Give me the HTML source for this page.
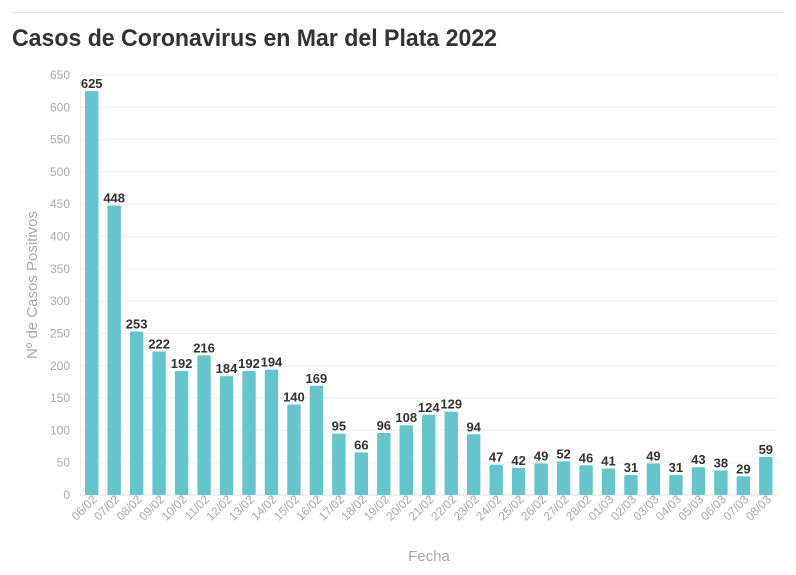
<!DOCTYPE html>
<html><head><meta charset="utf-8"><style>
body{margin:0;background:#fff;width:796px;height:575px;overflow:hidden}
svg{display:block;font-family:"Liberation Sans",sans-serif}
</style></head><body>
<svg width="796" height="575" xmlns="http://www.w3.org/2000/svg">
<line x1="12" y1="12.5" x2="784" y2="12.5" stroke="#ddd"/>
<text x="12" y="46" font-size="24" font-weight="bold" fill="#333" textLength="485" lengthAdjust="spacingAndGlyphs">Casos de Coronavirus en Mar del Plata 2022</text>
<g id="grid"></g>
<g id="bars"></g>
<text transform="translate(37,285) rotate(-90)" text-anchor="middle" font-size="15" fill="#aaa">Nº de Casos Positivos</text>
<text x="429" y="561" text-anchor="middle" font-size="15" fill="#aaa">Fecha</text>
<script>
const v=[625,448,253,222,192,216,184,192,194,140,169,95,66,96,108,124,129,94,47,42,49,52,46,41,31,49,31,43,38,29,59];
const L=["06/02","07/02","08/02","09/02","10/02","11/02","12/02","13/02","14/02","15/02","16/02","17/02","18/02","19/02","20/02","21/02","22/02","23/02","24/02","25/02","26/02","27/02","28/02","01/03","02/03","03/03","04/03","05/03","06/03","07/03","08/03"];
const ns="http://www.w3.org/2000/svg";
function el(p,t,a,tx){const e=document.createElementNS(ns,t);for(const k in a)e.setAttribute(k,a[k]);if(tx!=null)e.textContent=tx;p.appendChild(e);return e;}
const g=document.getElementById('grid'),b=document.getElementById('bars');
const y0=495,k=420/650;
for(let t=0;t<=650;t+=50){const y=y0-t*k;
el(g,'line',{x1:80,x2:778,y1:y,y2:y,stroke:t?'#efefef':'#e0e0e0'});
el(g,'text',{x:70,y:y+4,'text-anchor':'end','font-size':12,fill:'#aaa'},t);}
el(g,'line',{x1:80.5,x2:80.5,y1:75,y2:495,stroke:'#efefef'});
v.forEach((d,i)=>{const cx=91.7+i*22.47,h=d*k;
el(b,'rect',{x:cx-6.7,y:y0-h,width:13.4,height:h,fill:'#66c5cc',rx:1});
el(b,'text',{x:cx,y:y0-h-3,'text-anchor':'middle','font-size':13,'font-weight':'bold',fill:'#333'},d);
el(b,'line',{x1:cx,x2:cx,y1:495,y2:500,stroke:'#ddd'});
el(b,'text',{transform:`translate(${cx+6},${500}) rotate(-45)`,'text-anchor':'end','font-size':12,fill:'#aaa'},L[i]);});
</script>
</svg>
</body></html>
